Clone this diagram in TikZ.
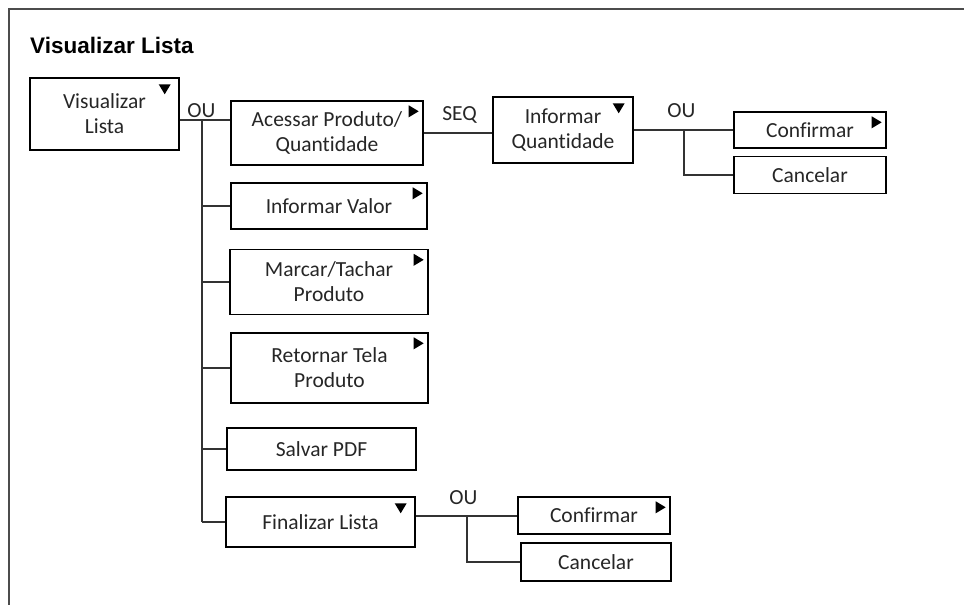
\documentclass[tikz,border=0pt]{standalone}
\usepackage{fontspec}
\setmainfont{Carlito}[Ligatures=NoCommon]
\newfontfamily\titlefont{Liberation Sans}
\usetikzlibrary{calc,positioning}

\tikzset{
  tarefa/.style={draw, line width=1.4pt, align=center, inner sep=0pt,
                 text=black!85, font=\fontsize{21.5}{25}\selectfont},
  liga/.style={line width=1.4pt, black!80},
  rotulo/.style={text=black!85, inner sep=0pt, font=\fontsize{21.5}{25}\selectfont}
}

\begin{document}
\begin{tikzpicture}[x=1pt, y=-1pt]
  \useasboundingbox (0,0) rectangle (964,605);
  % Moldura
  \draw[line width=2pt, black!70] (9,605) -- (9,9) -- (964,9);
  \node[anchor=base west, inner sep=0pt, font=\titlefont\bfseries\fontsize{22.5}{26}\selectfont] (titulo) at (30,53) {Visualizar Lista};

  % Define points
  \coordinate (ou1) at (202,120);
  \coordinate (ou2) at (684,130);
  \coordinate (ou3) at (467,516);

  % Tarefas
  \node[tarefa, minimum width=149, minimum height=72] (VL) at (104.5,114) {Visualizar\\Lista};
  \node[tarefa, minimum width=192, minimum height=64] (Acessar) at (327,133) {Acessar Produto/\\Quantidade};
  \node[tarefa, minimum width=140, minimum height=66] (InfQ) at (563,130) {Informar\\Quantidade};
  \node[tarefa, minimum width=152, minimum height=36] (Conf1) at (810,130) {Confirmar};
  \node[tarefa, minimum width=152, minimum height=37] (Canc1) at (810,175) {Cancelar};
  \node[tarefa, minimum width=196, minimum height=46] (InfValor) at (329,206) {Informar Valor};
  \node[tarefa, minimum width=198, minimum height=65] (Marcar) at (329,282) {Marcar/Tachar\\Produto};
  \node[tarefa, minimum width=197, minimum height=70] (Retornar) at (329.5,368) {Retornar Tela\\Produto};
  \node[tarefa, minimum width=189, minimum height=42] (Salvar) at (321.5,449) {Salvar PDF};
  \node[tarefa, minimum width=189, minimum height=50] (Final) at (320.5,522) {Finalizar Lista};
  \node[tarefa, minimum width=152, minimum height=37] (Conf2) at (594,515.5) {Confirmar};
  \node[tarefa, minimum width=150, minimum height=38] (Canc2) at (596,562) {Cancelar};

  % Label points
  \node[rotulo] (lou1) at (201.5,110.5) {OU};
  \node[rotulo] (lseq) at (459.5,114.5) {SEQ};
  \node[rotulo] (lou2) at (681.5,110.5) {OU};
  \node[rotulo] (lou3) at (463.5,497.5) {OU};

  % Ligacoes
  \draw[liga] (VL.east |- ou1) -- (Acessar.west |- ou1);
  \draw[liga] (ou1) -- (ou1 |- Final.west);
  \foreach \nm in {InfValor, Marcar, Retornar, Salvar, Final}
      \draw[liga] (ou1 |- \nm.west) -- (\nm.west);
  \draw[liga] (Acessar.east) -- (Acessar.east -| InfQ.west);
  \draw[liga] (InfQ.east) -- (Conf1.west);
  \draw[liga] (ou2) |- (Canc1.west);
  \draw[liga] (Final.east |- ou3) -- (Conf2.west |- ou3);
  \draw[liga] (ou3) |- (Canc2.west);

  % Triangulos
  \foreach \nm in {VL, InfQ, Final}
      \fill ($(\nm.north east)+(-21,7)$) -- ++(12,0) -- ++(-6,10) -- cycle;
  \foreach \nm in {Acessar, InfValor, Marcar, Retornar, Conf1, Conf2}
      \fill ($(\nm.north east)+(-15,5)$) -- ++(0,12) -- ++(10,-6) -- cycle;
\end{tikzpicture}
\end{document}
